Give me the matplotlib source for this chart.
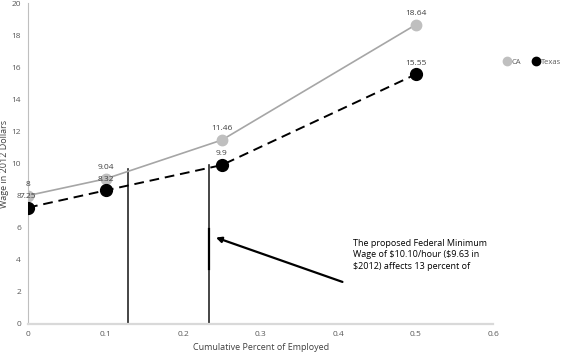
import matplotlib.pyplot as plt
from matplotlib.lines import Line2D

plt.rcParams['font.family'] = ['Open Sans', 'DejaVu Sans']

pct = [0, 0.1, 0.25, 0.5]
ca = [8, 9.04, 11.46, 18.64]
texas = [7.25, 8.32, 9.9, 15.55]

# reference lines for the minimum-wage shares
min_wage_x = [0.129, 0.2335]
min_wage_top = [9.63, 9.9]

note = ("The proposed Federal Minimum\n"
        "Wage of \\$10.10/hour (\\$9.63 in\n"
        "\\$2012) affects 13 percent of")

fig = plt.figure(figsize=(5.61, 3.54), dpi=100)
ax = fig.add_axes([0.05, 0.085, 0.829, 0.9065])

ax.plot(pct, ca, color="#A6A6A6", lw=1.2, marker="o", ms=7.5,
        mfc="#BFBFBF", mec="#BFBFBF", zorder=3)
ax.plot(pct, texas, color="black", lw=1.4, ls=(0, (5, 3)), marker="o", ms=8.5,
        mfc="black", mec="black", zorder=3)

for x, v in zip(pct, ca):
    ax.annotate(f"{v:g}", (x, v), xytext=(0, 7), textcoords="offset points",
                ha="center", fontsize=6, color="#404040")
for x, v in zip(pct, texas):
    ax.annotate(f"{v:g}", (x, v), xytext=(0, 7), textcoords="offset points",
                ha="center", fontsize=6, color="#404040")

for x, top in zip(min_wage_x, min_wage_top):
    ax.plot([x, x], [0, top], color="#262626", lw=1.2, zorder=2)
ax.plot([min_wage_x[1]] * 2, [3.4, 5.9], color="black", lw=1.6, zorder=2)

ax.annotate("", xy=(0.239, 5.44), xytext=(0.409, 2.56),
            arrowprops=dict(arrowstyle="-|>", color="black", lw=1.6,
                            mutation_scale=8))
ax.text(0.419, 5.3, note, fontsize=6.5, va="top", ha="left", linespacing=1.35)

ax.set_xlim(0, 0.6)
ax.set_ylim(0, 20)
ax.set_xticks([0, 0.1, 0.2, 0.3, 0.4, 0.5, 0.6])
ax.set_xticklabels(["0", "0.1", "0.2", "0.3", "0.4", "0.5", "0.6"])
ax.set_yticks(range(0, 21, 2))
ax.tick_params(length=0, labelsize=6, labelcolor="#595959", pad=5)
ax.set_xlabel("Cumulative Percent of Employed", fontsize=6.5, color="#404040")
ax.set_ylabel("Wage in 2012 Dollars", fontsize=6.5, color="#404040")
ax.yaxis.set_label_coords(-0.042, 0.5)

for s in ["top", "right"]:
    ax.spines[s].set_visible(False)
ax.spines["left"].set_color("#BFBFBF")
ax.spines["bottom"].set_color("#D9D9D9")
ax.spines["bottom"].set_linewidth(1.6)

handles = [Line2D([], [], ls="none", marker="o", ms=6, color="#BFBFBF"),
           Line2D([], [], ls="none", marker="o", ms=6, color="black")]
fig.legend(handles, ["CA", "Texas"], loc="center left", bbox_to_anchor=(0.886, 0.825),
           ncol=2, frameon=False, fontsize=5.5, handlelength=0.8, handletextpad=0.2,
           columnspacing=1.6, labelcolor="#595959")

fig.savefig("out.png", dpi=100)
